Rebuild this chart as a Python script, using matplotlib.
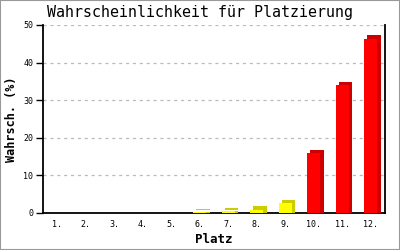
import matplotlib
matplotlib.use("Agg")
import matplotlib.pyplot as plt
import matplotlib.transforms as mtransforms
from matplotlib.patches import Rectangle

places = ["1.", "2.", "3.", "4.", "5.", "6.", "7.", "8.", "9.", "10.", "11.", "12."]
probs = [0, 0, 0, 0, 0, 0.15, 0.4, 0.9, 2.6, 16.0, 34.0, 46.4]
colors_front = ["#FFFF00"] * 9 + ["#FF0000"] * 3
colors_side = ["#CCCC00"] * 9 + ["#CC0000"] * 3
yticks = [0, 10, 20, 30, 40, 50]

DPI = 100
fig = plt.figure(figsize=(4, 2.5), dpi=DPI)
fig.patch.set_facecolor("white")
fig.add_artist(Rectangle((0, 0), 1, 1, transform=fig.transFigure, fill=False,
                         edgecolor="#999999", linewidth=1.5))

ax = fig.add_axes([43 / 400, 37 / 250, 342 / 400, 188 / 250])
x = list(range(1, len(places) + 1))

d = 3.2 / DPI
off_back = mtransforms.ScaledTranslation(d, d, fig.dpi_scale_trans)
off_side = mtransforms.ScaledTranslation(d, 0, fig.dpi_scale_trans)
ax.bar(x, probs, width=0.46, color=colors_side, linewidth=0,
       transform=ax.transData + off_back, clip_on=False, zorder=3)
ax.bar(x, probs, width=0.46, color=colors_side, linewidth=0,
       transform=ax.transData + off_side, clip_on=False, zorder=3)
ax.bar(x, probs, width=0.46, color=colors_front, linewidth=0, zorder=4, clip_on=False)

ax.set_xlim(0.5, 12.5)
ax.set_ylim(0, 50)
ax.set_xticks(x)
ax.set_xticklabels(places, family="DejaVu Sans Mono", fontsize=6)
ax.set_yticks(yticks)
ax.set_yticklabels([str(v) for v in yticks], family="DejaVu Sans Mono", fontsize=6)
ax.tick_params(axis="x", length=0, pad=5)
ax.tick_params(axis="y", length=5, width=1, direction="out", pad=2)

for v in yticks[1:]:
    ax.axhline(v, color="#BBBBBB", linewidth=0.9, linestyle=(0, (2.5, 3)), zorder=1)

ax.spines["top"].set_visible(False)
for s in ["left", "bottom", "right"]:
    ax.spines[s].set_linewidth(1.3)
    ax.spines[s].set_color("black")

ax.set_xlabel("Platz", family="DejaVu Sans Mono", fontsize=9, fontweight="bold", labelpad=3)
ax.set_ylabel("Wahrsch. (%)", family="DejaVu Sans Mono", fontsize=8.5, fontweight="bold", labelpad=4)
fig.text(0.5, 1 - 13 / 250, "Wahrscheinlichkeit für Platzierung", family="DejaVu Sans Mono",
         fontsize=10.8, ha="center", va="center")

fig.savefig("out.png", dpi=DPI)
